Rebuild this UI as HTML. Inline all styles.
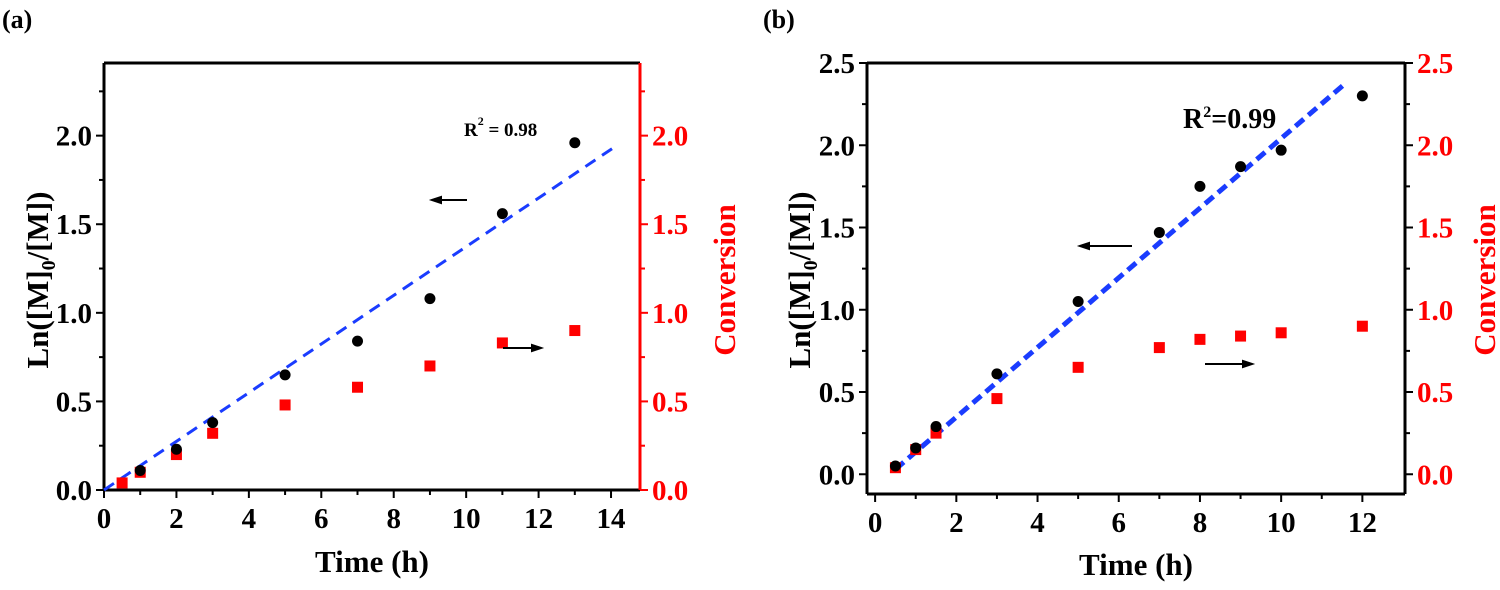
<!DOCTYPE html>
<html><head><meta charset="utf-8"><style>
body{margin:0;background:#fff;width:1500px;height:585px;overflow:hidden}
svg text{font-family:"Liberation Serif",serif;font-weight:bold}
</style></head><body>
<svg id="s" width="1500" height="585"></svg>
<script>
const aTime=[1,2,3,5,7,9,11,13];
const aLn=[0.11,0.23,0.38,0.65,0.84,1.08,1.56,1.96];
const aConvTime=[0.5,1,2,3,5,7,9,11,13];
const aConv=[0.04,0.10,0.20,0.32,0.48,0.58,0.70,0.83,0.90];
const aFit=[[0,0],[14.2,1.95]];
const bTime=[0.5,1,1.5,3,5,7,8,9,10,12];
const bLn=[0.05,0.16,0.29,0.61,1.05,1.47,1.75,1.87,1.97,2.30];
const bConv=[0.04,0.15,0.25,0.46,0.65,0.77,0.82,0.84,0.86,0.90];
const bFit=[[0.5,0.03],[11.6,2.38]];
const aXTicks=[0,2,4,6,8,10,12,14];
const aYTicks=[0,0.5,1.0,1.5,2.0];
const bXTicks=[0,2,4,6,8,10,12];
const bYTicks=[0,0.5,1.0,1.5,2.0,2.5];
const NS="http://www.w3.org/2000/svg";
const svg=document.getElementById('s');
function el(t,a,p){const e=document.createElementNS(NS,t);for(const k in a)e.setAttribute(k,a[k]);(p||svg).appendChild(e);return e;}
function txt(x,y,s,a,p){const e=el('text',Object.assign({x:x,y:y},a),p);e.textContent=s;return e;}
function panel(o){
 const g=el('g',{});
 
 
 const X=v=>o.x0+(v-o.xmin)*(o.x1-o.x0)/(o.xmax-o.xmin);
 const Y=v=>o.y0-(v-o.ymin)*(o.y0-o.y1)/(o.ymax-o.ymin);
 const L=X(o.xmin),R=X(o.xmax),T=Y(o.ymax),B=Y(o.ymin);
 let f=el('line',{x1:L,y1:T,x2:R,y2:T,stroke:'#000','stroke-width':3},g);
 
 f=el('line',{x1:L,y1:B,x2:R,y2:B,stroke:'#000','stroke-width':3},g);
 
 f=el('line',{x1:L,y1:T,x2:L,y2:B,stroke:'#000','stroke-width':3},g);
 
 f=el('line',{x1:R,y1:T,x2:R,y2:B,stroke:o.rc,'stroke-width':3},g);
 
 o.xt.forEach((v,i)=>{
  el('line',{x1:X(v),y1:B,x2:X(v),y2:B+8,stroke:'#000','stroke-width':2},g);
  if(i<o.xt.length-1)el('line',{x1:X(v+1),y1:B,x2:X(v+1),y2:B+5,stroke:'#000','stroke-width':2},g);
  const t=txt(X(v),B+38,String(v),{'font-size':29,'text-anchor':'middle'},g);
  
 });
 o.yt.forEach((v,i)=>{
  el('line',{x1:L,y1:Y(v),x2:L-8,y2:Y(v),stroke:'#000','stroke-width':2},g);
  el('line',{x1:R,y1:Y(v),x2:R+8,y2:Y(v),stroke:o.rc,'stroke-width':2},g);
  if(v+0.25<=o.ymax){el('line',{x1:L,y1:Y(v+0.25),x2:L-5,y2:Y(v+0.25),stroke:'#000','stroke-width':2},g);
  el('line',{x1:R,y1:Y(v+0.25),x2:R+5,y2:Y(v+0.25),stroke:o.rc,'stroke-width':2},g);}
  let t=txt(L-12,Y(v)+10,v.toFixed(1),{'font-size':29,'text-anchor':'end'},g);
  
  t=txt(R+12,Y(v)+10,v.toFixed(1),{'font-size':29,fill:'#f00'},g);
  
 });
 let t=txt((L+R)/2,o.xty,'Time (h)',{'font-size':31,'text-anchor':'middle'},g);
 
 t=el('text',{x:0,y:0,'font-size':31,'text-anchor':'middle',transform:`translate(${o.ylx},${o.tyc}) rotate(-90)`},g);
 t.innerHTML='Ln([M]<tspan font-size="20" dy="7">0</tspan><tspan dy="-7">/[M])</tspan>';
 
 t=txt(0,0,'Conversion',{'font-size':31,fill:'#f00','text-anchor':'middle',transform:`translate(${o.yrx},${o.tyc}) rotate(-90)`},g);
 
 const fl=el('line',{x1:X(o.fit[0][0]),y1:Y(o.fit[0][1]),x2:X(o.fit[1][0]),y2:Y(o.fit[1][1]),stroke:'#1a3cff','stroke-width':o.fw,'stroke-dasharray':o.dash},g);
 
 o.ct.forEach((v,i)=>{const r=el('rect',{x:X(v)-5.5,y:Y(o.conv[i])-5.5,width:11,height:11,fill:'#f00'},g);
  });
 o.lt.forEach((v,i)=>{const c=el('circle',{cx:X(v),cy:Y(o.ln[i]),r:5.5,fill:'#000'},g);
  });
 const r2=el('text',{x:o.r2[0],y:o.r2[1],'font-size':o.r2[2],'font-weight':o.r2[4]},g);
 r2.innerHTML='R<tspan font-size="'+o.r2[5]+'" dy="-11">2</tspan><tspan dy="11">'+o.r2[3]+'</tspan>';
 
 let a=el('path',{d:`M${o.la[0]} ${o.la[1]}h${o.la[2]}M${o.la[0]} ${o.la[1]}l9 -3v6z`,stroke:'#000','stroke-width':2,fill:'#000'},g);
 
 a=el('path',{d:`M${o.ra[0]} ${o.ra[1]}h${o.ra[2]}M${o.ra[0]+o.ra[2]} ${o.ra[1]}l-9 -3v6z`,stroke:'#000','stroke-width':2,fill:'#000'},g);
 
 t=txt(o.lab[0],o.lab[1],o.lab[2],{'font-size':26},g);
 
}
panel({name:'panel-a',x0:104,x1:640,xmin:0,xmax:14.8,y0:490,y1:63,ymin:0,ymax:2.41,rc:'#f00',
 xt:aXTicks,yt:aYTicks,lt:aTime,ln:aLn,ct:aConvTime,conv:aConv,fit:aFit,fw:3,dash:'12 8',
 r2:[464,136,19,' = 0.98','normal',12],la:[432,200,35],ra:[503,348,38],lab:[2,28,'(a)'],
 ylx:48,yrx:735,tyc:280,xty:572});
panel({name:'panel-b',x0:867,x1:1405,xmin:-0.2,xmax:13.05,y0:494,y1:63,ymin:-0.12,ymax:2.5,rc:'#000',
 xt:bXTicks,yt:bYTicks,lt:bTime,ln:bLn,ct:bTime,conv:bConv,fit:bFit,fw:5,dash:'11 6',
 r2:[1183,128,28,'=0.99','bold',16],la:[1080,246,52],ra:[1205,364,47],lab:[763,28,'(b)'],
 ylx:810,yrx:1495,tyc:280,xty:575});
</script>
</body></html>
